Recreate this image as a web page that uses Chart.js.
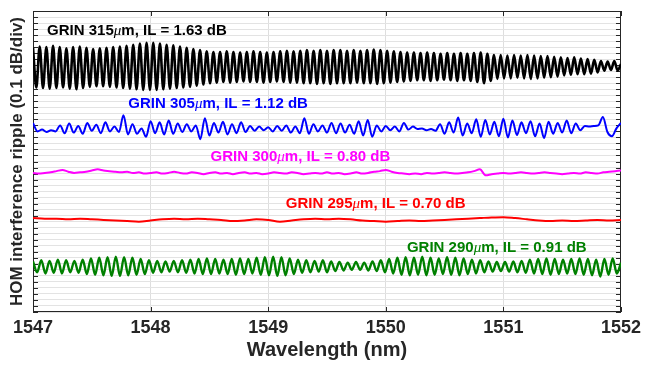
<!DOCTYPE html>
<html lang="en">
<head>
<meta charset="UTF-8">
<title>HOM interference ripple</title>
<script src="https://cdn.jsdelivr.net/npm/chart.js"></script>
<style>
  html, body { margin: 0; padding: 0; background: #fff; }
  #wrap { width: 646px; height: 365px; }
</style>
</head>
<body>
<div id="wrap"><canvas id="ripple"></canvas></div>
<script>
// wavelength span (nm) and tick labels
const wlStart = 1547;
const wlEnd = 1552;
const wlTicks = [1547, 1548, 1549, 1550, 1551, 1552];

// trace labels
const grinLengths = ['315', '305', '300', '295', '290'];
const insertionLoss = ['1.63', '1.12', '0.80', '0.70', '0.91'];

// ripple traces in dB (offset stacked), evenly sampled from 1547 to 1552 nm
const grin315 = [
  4.39,3.73, 4.41,3.72, 4.40,3.71, 4.42,3.72, 4.40,3.73, 4.38,3.71, 4.40,3.70, 4.41,3.72, 4.39,3.74,
  4.37,3.75, 4.38,3.75, 4.39,3.74, 4.40,3.73, 4.41,3.72, 4.42,3.71, 4.44,3.70, 4.46,3.69, 4.47,3.69,
  4.47,3.69, 4.46,3.70, 4.44,3.71, 4.43,3.72, 4.41,3.73, 4.39,3.74, 4.37,3.76, 4.35,3.78,
  4.33,3.80, 4.32,3.81, 4.32,3.82, 4.33,3.81, 4.32,3.82, 4.31,3.83, 4.32,3.82, 4.33,3.82, 4.32,3.81,
  4.31,3.82, 4.32,3.83, 4.33,3.82, 4.34,3.81, 4.33,3.81, 4.34,3.80, 4.35,3.80, 4.34,3.79, 4.35,3.80,
  4.34,3.79, 4.35,3.80,
  4.35,3.80, 4.34,3.80, 4.35,3.81, 4.34,3.80, 4.35,3.80, 4.36,3.79, 4.35,3.80, 4.34,3.81, 4.33,3.82,
  4.32,3.83, 4.31,3.84, 4.31,3.85, 4.30,3.85, 4.31,3.84, 4.30,3.85, 4.29,3.86, 4.30,3.85, 4.29,3.84,
  4.30,3.85, 4.29,3.84, 4.30,3.82, 4.31,3.80, 4.29,3.84,
  4.27,3.87, 4.27,3.88, 4.26,3.88, 4.27,3.89, 4.26,3.88, 4.27,3.87, 4.26,3.88, 4.25,3.89, 4.25,3.90,
  4.24,3.91,
  4.23,3.93, 4.22,3.94, 4.23,3.95, 4.21,3.95, 4.20,3.96, 4.19,3.98,
  4.17,4.01, 4.16,4.02, 4.17,4.01, 4.12
];

const grin305 = [
  3.14, 3.00, 3.03, 2.99, 3.02, 3.00, 3.10, 2.97, 3.13, 2.98, 3.09, 2.96, 3.14, 3.01, 3.11, 2.97,
  3.15, 3.00, 3.08, 2.99, 3.27, 2.95, 3.12, 2.96, 3.05, 2.91, 3.17, 2.97, 3.15, 2.95, 3.18, 2.96,
  3.13, 2.99, 3.12, 3.00, 3.10, 2.87, 3.22, 2.93, 3.14, 2.98, 3.16, 2.95, 3.12, 2.97, 3.15, 2.99,
  3.09, 3.01, 3.08, 3.02, 3.07, 3.00, 3.09, 3.01, 3.10, 2.98, 3.08, 2.97, 3.22, 2.96, 3.12, 3.00,
  3.10, 2.98, 3.14, 2.97, 3.13, 2.98, 3.11, 2.96, 3.17, 2.93, 3.19, 2.91, 3.10, 3.00, 3.09, 3.02,
  3.08, 3.00, 3.14, 3.03, 3.08, 3.04, 3.05, 3.02, 3.04, 3.01, 3.12, 2.96, 3.15, 2.98, 3.23, 2.93,
  3.13, 2.97, 3.20, 2.91, 3.19, 2.95, 3.16, 2.92, 3.21, 2.90, 3.18, 2.94, 3.15, 2.97, 3.17, 2.92,
  3.13, 2.89, 3.16, 2.96, 3.14, 2.98, 3.18, 2.97, 3.13, 3.02, 3.09, 3.08, 3.09, 3.10, 3.24, 2.99,
  2.92, 3.05, 3.14
];

const grin300 = [
  2.31, 2.30, 2.31, 2.32, 2.34, 2.36, 2.33, 2.31, 2.32, 2.33, 2.35, 2.37, 2.35, 2.34, 2.33, 2.32,
  2.33, 2.31, 2.32, 2.30, 2.31, 2.32, 2.30, 2.31, 2.33, 2.31, 2.30, 2.32, 2.31, 2.29, 2.31, 2.32,
  2.30, 2.31, 2.29, 2.31, 2.32, 2.30, 2.31, 2.29, 2.30, 2.32, 2.31, 2.30, 2.32, 2.31, 2.29, 2.30,
  2.31, 2.30, 2.32, 2.30, 2.31, 2.29, 2.30, 2.32, 2.30, 2.31, 2.33, 2.34, 2.36, 2.33, 2.31, 2.30,
  2.29, 2.30, 2.29, 2.31, 2.30, 2.31, 2.32, 2.31, 2.30, 2.31, 2.32, 2.34, 2.37, 2.27, 2.29, 2.30,
  2.31, 2.30, 2.31, 2.32, 2.31, 2.30, 2.31, 2.32, 2.31, 2.30, 2.29, 2.30, 2.31, 2.30, 2.32, 2.31,
  2.30, 2.32, 2.33, 2.34, 2.35
];

const grin295 = [
  1.56, 1.55, 1.55, 1.54, 1.55, 1.54, 1.53, 1.52, 1.51, 1.50, 1.52, 1.54, 1.55, 1.54, 1.55, 1.54,
  1.53, 1.51, 1.52, 1.54, 1.53, 1.50, 1.52, 1.54, 1.55, 1.54, 1.55, 1.54, 1.52, 1.51, 1.50, 1.51,
  1.52, 1.51, 1.52, 1.53, 1.54, 1.55, 1.56, 1.57, 1.575, 1.56, 1.54, 1.52, 1.51, 1.52, 1.51, 1.52,
  1.53, 1.52, 1.53
];

const grin290 = [
  0.84,0.66, 0.86,0.64, 0.85,0.65, 0.87,0.64, 0.86,0.66, 0.85,0.65, 0.87,0.63, 0.89,0.62,
  0.90,0.61, 0.91,0.60, 0.92,0.60, 0.91,0.61, 0.90,0.62, 0.88,0.63,
  0.86,0.65, 0.85,0.66, 0.84,0.67, 0.85,0.66, 0.86,0.65, 0.87,0.64,
  0.88,0.63, 0.89,0.63, 0.88,0.64, 0.87,0.63, 0.88,0.62, 0.89,0.63, 0.88,0.64, 0.90,0.62,
  0.91,0.61, 0.92,0.60, 0.91,0.61, 0.89,0.63,
  0.87,0.65, 0.86,0.66, 0.85,0.67, 0.86,0.66, 0.84,0.68,
  0.83,0.69, 0.82,0.70, 0.83,0.70, 0.82,0.69, 0.84,0.68, 0.86,0.66,
  0.88,0.64, 0.90,0.62, 0.91,0.61, 0.90,0.62, 0.92,0.61, 0.90,0.62, 0.89,0.63, 0.91,0.62,
  0.90,0.61, 0.89,0.63, 0.87,0.64, 0.86,0.66,
  0.84,0.67, 0.83,0.68, 0.83,0.67, 0.84,0.66, 0.85,0.65,
  0.87,0.64, 0.88,0.63, 0.89,0.62, 0.88,0.63, 0.87,0.64, 0.88,0.63, 0.89,0.62, 0.88,0.61,
  0.87,0.59, 0.88,0.62, 0.89,0.64, 0.82
];

const traceColors = ['#000000', '#0000ff', '#ff00ff', '#ff0000', '#008000'];
const traceWidths = [2.6, 2, 2, 2, 2.4];
const axisColor = '#262626';

function toPoints(vals) {
  const step = (wlEnd - wlStart) / (vals.length - 1);
  return vals.map((v, i) => ({ x: wlStart + i * step, y: v }));
}

const traces = [grin315, grin305, grin300, grin295, grin290];

// where each label starts (nm, dB)
const labelAnchors = [
  { x: 1547.12, y: 4.67 },
  { x: 1547.81, y: 3.46 },
  { x: 1548.51, y: 2.57 },
  { x: 1549.15, y: 1.79 },
  { x: 1550.18, y: 1.06 }
];

const boxAndTicks = {
  id: 'boxAndTicks',
  beforeDatasetsDraw(chart) {
    const { ctx, chartArea: a, scales } = chart;
    ctx.save();
    ctx.strokeStyle = axisColor;
    ctx.lineWidth = 1;
    ctx.beginPath();
    scales.y.ticks.forEach(t => {
      const py = Math.round(scales.y.getPixelForValue(t.value)) + 0.5;
      ctx.moveTo(a.left, py); ctx.lineTo(a.left + 5, py);
      ctx.moveTo(a.right, py); ctx.lineTo(a.right - 5, py);
    });
    wlTicks.forEach(w => {
      const px = Math.round(scales.x.getPixelForValue(w)) + 0.5;
      ctx.moveTo(px, a.bottom); ctx.lineTo(px, a.bottom - 5);
      ctx.moveTo(px, a.top); ctx.lineTo(px, a.top + 5);
    });
    ctx.stroke();
    ctx.strokeRect(Math.round(a.left) + 0.5, Math.round(a.top) + 0.5,
      Math.round(a.width) - 1, Math.round(a.height) - 1);
    ctx.restore();
  },
  afterDatasetsDraw(chart) {
    const { ctx, scales } = chart;
    ctx.save();
    ctx.textBaseline = 'middle';
    traces.forEach((_, k) => {
      let px = scales.x.getPixelForValue(labelAnchors[k].x);
      const py = scales.y.getPixelForValue(labelAnchors[k].y);
      const parts = [
        ['bold 15px "Liberation Sans", Arial, sans-serif', 'GRIN ' + grinLengths[k]],
        ['italic 15px "Liberation Serif", "Times New Roman", serif', '\u03bc'],
        ['bold 15px "Liberation Sans", Arial, sans-serif', 'm, IL = ' + insertionLoss[k] + ' dB']
      ];
      ctx.fillStyle = traceColors[k];
      parts.forEach(([font, txt]) => {
        ctx.font = font;
        ctx.fillText(txt, px, py);
        px += ctx.measureText(txt).width;
      });
    });
    ctx.restore();
  }
};

Chart.defaults.font.family = '"Liberation Sans", Arial, sans-serif';
Chart.defaults.color = axisColor;

new Chart(document.getElementById('ripple'), {
  type: 'line',
  data: {
    datasets: traces.map((vals, k) => ({
      label: 'GRIN ' + grinLengths[k],
      data: toPoints(vals),
      borderColor: traceColors[k],
      borderWidth: traceWidths[k],
      pointRadius: 0,
      fill: false,
      cubicInterpolationMode: 'monotone'
    }))
  },
  options: {
    responsive: true,
    maintainAspectRatio: false,
    animation: false,
    layout: { padding: { left: 0, right: 23, top: 11, bottom: 0 } },
    plugins: { legend: { display: false }, tooltip: { enabled: false } },
    scales: {
      x: {
        type: 'linear',
        min: wlStart,
        max: wlEnd,
        afterFit: s => { s.height = 53; },
        afterBuildTicks: s => { s.ticks = wlTicks.map(v => ({ value: v })); },
        grid: { color: '#dedede', drawTicks: false },
        border: { display: false },
        ticks: {
          padding: 5,
          color: axisColor,
          font: { size: 18, weight: 'bold' },
          callback: v => String(v)
        },
        title: {
          display: true,
          text: 'Wavelength (nm)',
          color: axisColor,
          font: { size: 20, weight: 'bold' },
          padding: { top: 0, bottom: 3 }
        }
      },
      y: {
        min: 0,
        max: 5,
        afterFit: s => { s.width = 33; },
        grid: { color: '#e3e3e3', drawTicks: false },
        border: { display: false },
        ticks: { display: false, stepSize: 0.1, autoSkip: false },
        title: {
          display: true,
          text: 'HOM interference ripple (0.1 dB/div)',
          color: axisColor,
          font: { size: 17, weight: 'bold' },
          padding: { top: 7, bottom: 0 }
        }
      }
    }
  },
  plugins: [boxAndTicks]
});
</script>
</body>
</html>
